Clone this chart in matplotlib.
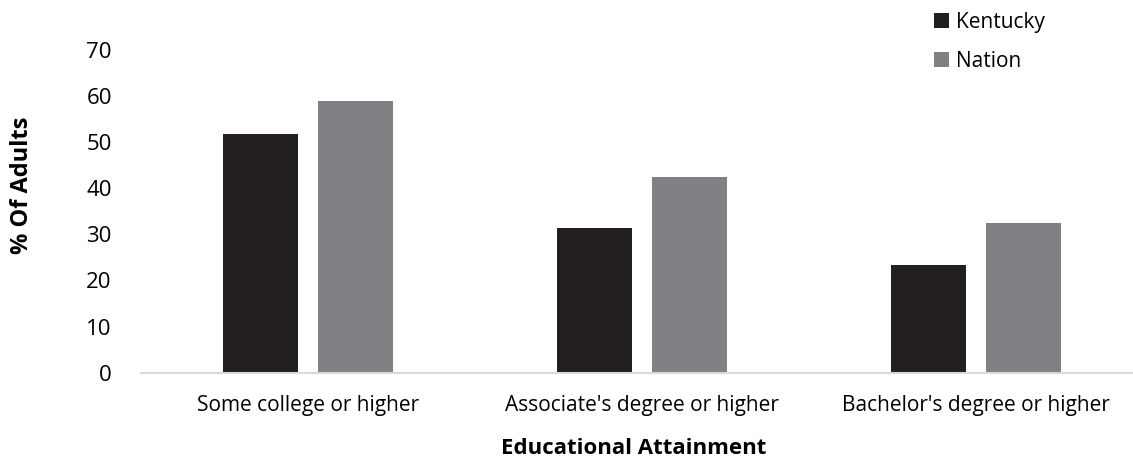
import numpy as np
import matplotlib.pyplot as plt

categories = ["Some college or higher", "Associate's degree or higher", "Bachelor's degree or higher"]
kentucky = [51.7, 31.3, 23.3]
nation = [58.9, 42.4, 32.5]

plt.rcParams['font.family'] = ['Open Sans', 'DejaVu Sans']

fig = plt.figure(figsize=(11.33, 4.62), dpi=100)
ax = fig.add_axes([141/1133, 89.3/462, 992/1133, 322.7/462])

x = np.arange(len(categories))
w = 0.2246
ax.bar(x - 0.1425, kentucky, w, color='#231f20', label='Kentucky')
ax.bar(x + 0.1425, nation, w, color='#808184', label='Nation')

ax.set_xlim(-0.5, 2.47)
ax.set_ylim(0, 70)
ax.set_yticks(range(0, 71, 10))
ax.set_xticks(x)
ax.set_xticklabels(categories)
ax.tick_params(length=0, labelsize=15, colors='#000000')
ax.tick_params(axis='y', labelsize=16, pad=21)
ax.tick_params(axis='x', pad=16)
for s in ['top', 'right', 'left']:
    ax.spines[s].set_visible(False)
ax.spines['bottom'].set_color('#d9d9d9')
ax.spines['bottom'].set_linewidth(1.5)

ax.set_xlabel('Educational Attainment', fontsize=16, fontweight='bold')
ax.xaxis.label.set_va('center')
ax.xaxis.set_label_coords(0.497, -0.235)
ax.set_ylabel('% Of Adults', fontsize=17, fontweight='bold')
ax.yaxis.label.set_va('center')
ax.yaxis.set_label_coords(-0.12, 0.58)

ax.legend(loc='center left', frameon=False, fontsize=15, handlelength=0.72, handleheight=0.72,
          handletextpad=0.35, labelspacing=0.85, borderpad=0, borderaxespad=0)
leg = ax.get_legend()
leg.set_bbox_to_anchor((934/1133, 1 - 42/462), transform=fig.transFigure)

fig.savefig('out.png', dpi=100)
